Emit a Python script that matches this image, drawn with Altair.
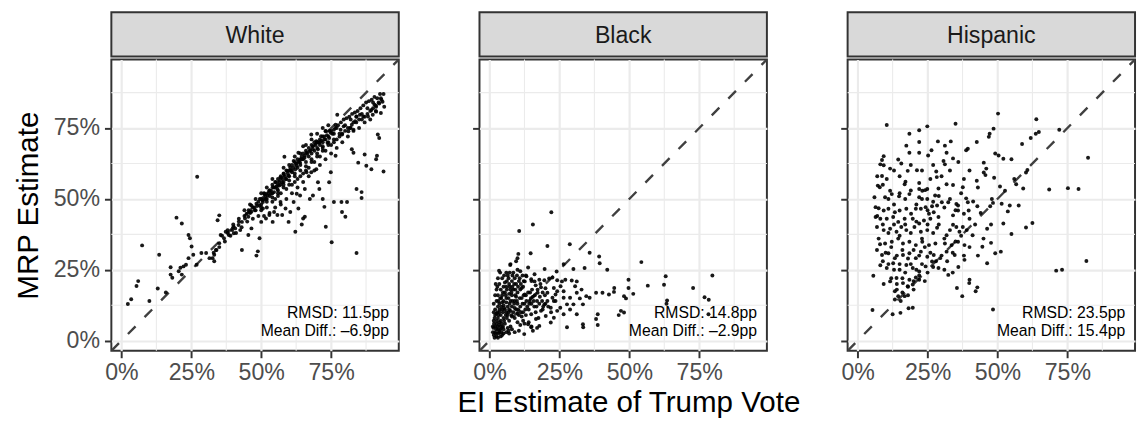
import altair as alt
import pandas as pd

FONT = "Liberation Sans"

panel_names = ["White", "Black", "Hispanic"]
rmsd_labels = ["RMSD: 11.5pp", "RMSD: 14.8pp", "RMSD: 23.5pp"]
mdiff_labels = ["Mean Diff.: \u20136.9pp", "Mean Diff.: \u20132.9pp", "Mean Diff.: 15.4pp"]
x_title = "EI Estimate of Trump Vote"
y_title = "MRP Estimate"
major_ticks = [0, 0.25, 0.5, 0.75]
minor_ticks = [0.125, 0.375, 0.625, 0.875]
axis_domain = [-0.036, 0.992]
diag_ends = [-0.036, 0.992]
ann_x = 0.957
ann_y = [0.080, 0.0174]

white_pts = [
    (.9375,.87),(.928,.855),(.934,.843),(.922,.837),(.94,.825),(.911,.825),(.905,.832),(.911,.808),
    (.928,.803),(.899,.797),(.894,.814),(.882,.791),(.865,.791),(.853,.797),(.841,.791),(.836,.774),
    (.824,.762),(.83,.744),(.812,.739),(.818,.75),(.795,.756),(.784,.744),(.789,.727),(.766,.762),
    (.76,.744),(.772,.797),(.749,.733),(.743,.715),(.737,.698),(.731,.739),(.726,.71),(.72,.686),
    (.714,.721),(.708,.698),(.703,.675),(.697,.704),(.685,.686),(.679,.727),(.674,.669),(.662,.663),
    (.656,.652),(.65,.686),(.645,.64),(.639,.628),(.633,.663),(.627,.617),(.622,.605),(.616,.634),
    (.61,.594),(.604,.611),(.598,.582),(.593,.599),(.587,.57),(.581,.588),(.583,.649),(.575,.559),
    (.569,.576),(.564,.547),(.558,.535),(.552,.559),(.546,.524),(.541,.541),(.535,.518),(.529,.53),
    (.523,.512),(.517,.5),(.512,.518),(.506,.489),(.5,.5),(.494,.477),(.483,.483),(.477,.46),
    (.465,.477),(.459,.454),(.454,.437),(.448,.448),(.442,.431),(.431,.419),(.419,.408),(.407,.396),
    (.396,.39),(.402,.379),(.384,.373),(.373,.384),(.367,.361),(.355,.373),(.35,.442),(.344,.425),
    (.35,.344),(.338,.32),(.332,.303),(.332,.28),(.326,.291),(.315,.291),(.303,.309),(.286,.309),
    (.271,.578),(.269,.268),(.257,.303),(.251,.332),(.245,.361),(.24,.373),(.24,.291),(.231,.268),
    (.222,.262),(.216,.413),(.211,.257),(.216,.233),(.197,.434),(.205,.245),(.182,.222),(.176,.259),
    (.176,.233),(.159,.17),(.13,.184),(.135,.303),(.1,.14),(.06,.21),(.054,.193),(.035,.146),
    (.023,.129),(.074,.336),
    (.9375,.597),(.917,.727),(.922,.715),(.914,.652),(.911,.64),(.894,.605),(.876,.617),(.859,.524),
    (.859,.503),(.87,.657),(.847,.628),(.841,.535),(.841,.309),(.824,.675),(.83,.663),(.807,.489),
    (.801,.437),(.789,.454),(.787,.489),(.766,.652),(.76,.489),(.752,.347),(.749,.594),(.743,.559),
    (.731,.402),(.726,.472),(.72,.5),(.708,.535),(.703,.559),(.697,.605),(.685,.512),(.679,.594),
    (.674,.5),(.662,.594),(.656,.535),(.656,.437),(.65,.431),(.645,.41),(.639,.512),(.633,.466),
    (.627,.518),(.622,.384),(.616,.489),(.604,.454),(.598,.419),(.587,.466),(.575,.443),(.569,.489),
    (.558,.443),(.546,.454),(.541,.419),(.529,.443),(.517,.431),(.506,.466),(.5,.419),(.494,.361),
    (.483,.3),(.488,.315),(.465,.396),(.454,.373),(.431,.32),(.425,.39),
    (.47,.47),(.48,.46),(.49,.49),(.50,.48),(.51,.50),(.52,.49),(.53,.51),(.54,.52),(.55,.54),
    (.56,.53),(.57,.55),(.58,.56),(.59,.57),(.60,.58),(.61,.60),(.62,.59),(.63,.61),(.64,.62),
    (.65,.64),(.66,.63),(.67,.65),(.68,.66),(.69,.67),(.70,.68),(.71,.69),(.72,.70),(.73,.71),
    (.74,.72),(.75,.74),(.76,.73),(.77,.75),(.62,.56),(.60,.55),(.58,.54),(.56,.51),(.54,.49),
    (.52,.47),(.50,.46),(.64,.58),(.66,.60),(.68,.63),(.70,.65),(.72,.67),(.74,.70),(.76,.71),
    (.78,.73),(.80,.76),(.82,.78),(.84,.79),(.86,.80),(.88,.82),(.90,.84),(.92,.84),(.91,.81),
    (.89,.78),(.87,.77),(.85,.75),(.83,.74),(.81,.72),(.79,.70),(.77,.68),(.75,.66),(.73,.64),
    (.71,.62),(.69,.60),(.67,.58),(.65,.56),(.63,.54),(.61,.52),(.59,.50),(.57,.48),(.55,.47),
    (.53,.45),(.51,.44),(.49,.44),(.47,.43),(.45,.42),(.43,.40),(.41,.38),(.39,.37),(.37,.35),
    (.35,.33),(.44,.44),(.46,.45),(.42,.42),(.40,.40),(.38,.38),(.36,.37),(.34,.32),(.33,.31),
    (.57,.58),(.59,.60),(.61,.62),(.63,.64),(.65,.66),(.67,.68),(.69,.70),(.71,.71),(.73,.74),
    (.55,.56),(.53,.53),(.51,.52),(.66,.69),(.68,.71),(.70,.73),(.72,.75),(.74,.76),(.64,.66),
    (.62,.63),(.60,.62),(.58,.59),(.56,.57),(.54,.55),
    (.455,.46),(.465,.455),(.475,.47),(.485,.475),(.495,.5),(.505,.495),(.515,.51),(.525,.52),
    (.535,.53),(.545,.54),(.555,.545),(.565,.56),(.575,.57),(.585,.58),(.595,.59),(.605,.6),
    (.615,.61),(.625,.625),(.635,.63),(.645,.65),(.655,.645),(.665,.66),(.675,.67),(.685,.675),
    (.695,.69),(.705,.7),(.715,.705),(.725,.72),(.735,.725),(.745,.74),(.755,.73),(.765,.75),
    (.775,.76),(.785,.77),(.795,.78),(.805,.785),(.815,.79),(.825,.8),(.835,.805),(.845,.81),
    (.855,.82),(.865,.83),(.875,.84),(.885,.845),(.895,.85),(.905,.86),(.915,.855),(.925,.87),
    (.6,.565),(.62,.58),(.64,.6),(.66,.615),(.68,.64),(.7,.66),(.72,.68),(.74,.69),(.76,.7),
    (.78,.72),(.8,.74),(.82,.75),(.84,.77),(.86,.78),(.88,.8),(.9,.82),(.58,.55),(.56,.52),
    (.54,.505),(.52,.5),(.5,.47),
    (.48,.5),(.5,.52),(.52,.54),(.54,.57),(.56,.55),(.58,.61),(.6,.6),(.62,.65),(.64,.64),
    (.66,.67),(.68,.69),(.7,.7),(.72,.72),(.55,.5),(.57,.52),(.59,.535),(.61,.55),(.63,.57),
    (.65,.59),(.67,.61),(.69,.63),(.71,.65),(.73,.67),(.75,.69),(.77,.71),(.79,.73),(.81,.75),
    (.83,.77),(.85,.78),(.87,.79),(.89,.81),(.91,.83),(.93,.85),(.46,.48),(.44,.46),(.42,.43),
    (.4,.41),(.38,.39),
]

black_pts = [
    (.221,.453),(.155,.41),(.106,.387),(.207,.334),(.287,.34),(.103,.306),(.147,.308),(.1,.291),
    (.358,.31),(.392,.297),(.394,.273),(.543,.277),(.074,.267),(.138,.258),(.197,.253),(.265,.27),
    (.3,.253),(.34,.256),(.421,.25),(.24,.244),(.034,.247),(.63,.227),(.797,.23),(.497,.215),
    (.566,.194),(.624,.197),(.728,.186),(.769,.153),(.784,.144),(.635,.142),(.633,.13),(.497,.186),
    (.446,.186),(.445,.172),(.427,.163),(.404,.169),(.381,.169),(.481,.157),(.488,.149),(.514,.165),
    (.462,.09),(.481,.099),(.381,.076),(.387,.093),(.334,.058),(.387,.055),(.277,.047),(.312,.093),
    (.219,.064),(.155,.035),(.124,.023),(.068,.035),(.783,.093),(.47,.105),(.335,.047),
    (.149,.217),(.161,.209),(.196,.213),(.213,.219),(.225,.223),(.242,.213),(.259,.209),(.271,.215),
    (.294,.212),(.312,.209),(.306,.192),(.254,.192),(.23,.186),(.184,.188),(.172,.169),(.207,.169),
    (.236,.163),(.265,.151),(.288,.151),(.323,.149),(.346,.157),(.358,.151),(.334,.128),(.3,.128),
    (.277,.128),(.253,.116),(.219,.116),(.196,.128),(.184,.105),(.149,.093),(.166,.076),(.201,.087),
    (.242,.105),(.265,.093),(.288,.11),(.23,.081),(.138,.058),(.149,.047),(.178,.052),(.207,.14),
    (.236,.14),(.312,.169),(.329,.18),(.265,.174),(.242,.174),(.225,.151),(.144,.14),(.126,.163),
    (.115,.186),(.126,.209),(.132,.227),(.161,.234),(.178,.215),
    (.015,.02),(.02,.03),(.025,.015),(.02,.05),(.03,.04),(.015,.07),(.02,.09),(.025,.06),(.03,.08),
    (.035,.03),(.04,.05),(.045,.02),(.05,.04),(.04,.07),(.035,.10),(.03,.12),(.02,.11),(.025,.14),
    (.03,.16),(.035,.13),(.04,.09),(.045,.11),(.05,.08),(.055,.06),(.06,.03),(.06,.10),(.065,.12),
    (.05,.14),(.045,.16),(.04,.18),(.035,.20),(.03,.22),(.05,.19),(.055,.17),(.06,.15),(.065,.09),
    (.07,.07),(.075,.05),(.07,.11),(.075,.14),(.08,.12),(.085,.10),(.09,.08),(.08,.16),(.085,.18),
    (.09,.14),(.095,.11),(.1,.13),(.105,.09),(.11,.12),(.115,.15),(.1,.17),(.095,.20),(.09,.22),
    (.07,.20),(.065,.23),(.06,.19),(.075,.18),(.08,.21),(.11,.18),(.12,.10),(.125,.13),(.13,.16),
    (.12,.19),(.105,.21),(.085,.24),(.06,.24),(.045,.22),(.025,.18),(.02,.16),(.015,.13),(.015,.10),
    (.012,.05),(.018,.01),(.03,.01),(.04,.015),(.05,.025),(.055,.11),(.035,.065),(.025,.095),
    (.045,.135),(.055,.205),(.07,.165),(.08,.085),(.095,.155),(.1,.065),(.11,.055),(.12,.07),
    (.13,.09),(.14,.11),(.15,.13),(.145,.17),(.135,.12),(.065,.045),(.08,.04),(.09,.03),(.105,.035),
    (.07,.025),(.05,.125),(.06,.135),(.075,.105),(.09,.115),(.1,.095),(.115,.085),(.125,.06),
    (.155,.155),(.16,.12),(.17,.14),(.18,.155),(.165,.1),(.175,.08),(.14,.065),(.15,.05),(.17,.045),
    (.19,.11),(.2,.13),(.21,.12),(.22,.1),(.23,.14),(.19,.17),(.2,.185),(.165,.195),(.15,.21),
    (.13,.23),(.11,.245),(.1,.25),(.075,.27),(.095,.28),
    (.012,.03),(.014,.045),(.016,.06),(.018,.08),(.022,.025),(.024,.04),(.026,.07),(.028,.05),
    (.032,.025),(.034,.055),(.038,.04),(.042,.03),(.044,.06),(.048,.05),(.052,.07),(.028,.1),
    (.032,.09),(.036,.11),(.042,.12),(.048,.1),(.052,.115),(.058,.09),(.062,.08),(.068,.1),
    (.072,.13),(.078,.09),(.082,.14),(.088,.13),(.092,.16),(.098,.14),(.102,.11),(.108,.15),
    (.112,.1),(.118,.13),(.122,.16),(.128,.11),(.132,.14),(.138,.17),(.142,.13),(.148,.15),
    (.152,.18),(.158,.14),(.162,.16),(.168,.12),(.172,.18),(.178,.13),(.182,.2),(.188,.14),
    (.192,.12),(.198,.16),(.042,.15),(.048,.17),(.058,.16),(.062,.18),(.068,.15),(.072,.19),
    (.078,.17),(.082,.19),(.088,.2),(.092,.18),(.098,.23),(.102,.19),(.108,.22),(.112,.2),
    (.118,.23),(.122,.21),(.062,.21),(.068,.22),(.052,.23),(.038,.24),(.072,.24),(.082,.23),
    (.028,.19),(.022,.2),(.032,.14),(.038,.15),
]

hispanic_pts = [
    (.104,.761),(.185,.73),(.22,.742),(.249,.756),(.35,.765),(.502,.801),(.486,.748),(.472,.73),
    (.469,.719),(.639,.781),(.648,.736),(.637,.73),(.619,.715),(.721,.744),(.588,.694),(.426,.701),
    (.394,.677),(.388,.672),(.287,.703),(.312,.688),(.333,.703),(.22,.701),(.174,.688),(.185,.663),
    (.22,.663),(.252,.653),(.264,.672),(.318,.663),(.341,.643),(.307,.634),(.312,.622),(.093,.651),
    (.087,.637),(.145,.639),(.156,.625),(.081,.622),(.093,.619),(.116,.607),(.492,.66),(.504,.653),
    (.521,.642),(.55,.64),(.824,.645),(.451,.628),(.46,.607),(.451,.593),(.457,.584),(.607,.602),
    (.602,.593),(.179,.599),(.212,.601),(.281,.597),(.283,.577),(.087,.581),(.104,.57),(.171,.561),
    (.168,.552),(.22,.556),(.426,.564),(.488,.575),(.56,.57),(.567,.552),(.592,.537),(.685,.533),
    (.752,.538),(.79,.535),(.072,.547),(.079,.541),(.116,.529),(.22,.535),(.231,.529),(.241,.531),
    (.249,.535),(.289,.537),(.318,.552),(.341,.549),(.376,.541),(.509,.544),(.527,.529),(.06,.506),
    (.098,.506),(.122,.517),(.148,.509),(.185,.517),(.22,.506),(.249,.5),(.277,.512),(.301,.488),
    (.324,.488),(.353,.482),(.359,.477),(.388,.502),(.394,.488),(.413,.491),(.428,.474),(.474,.474),
    (.48,.5),(.484,.486),(.515,.483),(.544,.477),(.537,.456),(.576,.477),(.064,.471),(.075,.467),
    (.093,.459),(.11,.465),(.133,.453),(.15,.459),(.174,.465),(.191,.448),(.208,.465),(.226,.465),
    (.243,.471),(.266,.474),(.284,.477),(.255,.448),(.272,.453),(.289,.436),(.341,.442),(.359,.459),
    (.38,.448),(.397,.459),(.064,.436),(.081,.43),(.104,.43),(.127,.436),(.145,.419),(.168,.43),
    (.197,.43),(.22,.413),(.237,.424),(.26,.43),(.069,.401),(.093,.39),(.116,.395),(.139,.384),
    (.156,.401),(.174,.39),(.203,.401),(.226,.384),(.249,.39),(.284,.398),(.318,.372),(.341,.409),
    (.353,.401),(.364,.384),(.376,.401),(.411,.372),(.463,.395),(.477,.41),(.521,.413),(.55,.376),
    (.602,.399),(.625,.415),(.075,.36),(.098,.343),(.122,.349),(.145,.36),(.162,.343),(.185,.349),
    (.208,.337),(.231,.349),(.255,.337),(.278,.343),(.312,.343),(.336,.337),(.359,.349),(.382,.337),
    (.446,.331),(.477,.345),(.512,.314),(.492,.308),(.069,.32),(.087,.302),(.11,.308),(.133,.291),
    (.162,.302),(.185,.308),(.208,.291),(.226,.314),(.249,.296),(.272,.302),(.295,.291),(.318,.314),
    (.347,.302),(.382,.285),(.463,.273),(.081,.266),(.104,.256),(.127,.273),(.15,.25),(.174,.267),
    (.197,.256),(.22,.244),(.243,.262),(.266,.279),(.289,.256),(.31,.25),(.324,.232),(.056,.229),
    (.093,.2),(.116,.209),(.139,.221),(.162,.203),(.185,.215),(.208,.223),(.22,.215),(.179,.192),
    (.197,.198),(.133,.174),(.145,.157),(.133,.145),(.154,.14),(.168,.157),(.355,.186),(.4,.215),
    (.399,.203),(.428,.188),(.422,.174),(.374,.157),(.71,.247),(.731,.25),(.818,.281),(.484,.11),
    (.053,.108),(.125,.093),(.153,.098),(.182,.114),(.197,.116),
    (.07,.58),(.09,.55),(.11,.5),(.13,.48),(.15,.52),(.17,.5),(.19,.53),(.21,.48),(.23,.5),
    (.25,.46),(.27,.49),(.29,.51),(.31,.47),(.33,.5),(.35,.46),(.37,.52),(.07,.44),(.09,.41),
    (.11,.38),(.13,.41),(.15,.37),(.17,.41),(.19,.38),(.21,.42),(.23,.36),(.25,.41),(.27,.38),
    (.29,.41),(.31,.36),(.33,.39),(.35,.35),(.37,.37),(.39,.39),(.08,.34),(.1,.31),(.12,.33),
    (.14,.3),(.16,.32),(.18,.29),(.2,.32),(.22,.3),(.24,.33),(.26,.31),(.28,.28),(.3,.3),
    (.32,.28),(.34,.31),(.09,.28),(.11,.27),(.13,.25),(.15,.27),(.17,.24),(.19,.27),(.21,.25),
    (.23,.27),(.25,.24),(.27,.26),(.12,.22),(.14,.2),(.16,.22),(.18,.19),(.2,.21),(.22,.23),
    (.24,.21),(.14,.18),(.16,.17),(.18,.16),(.2,.18),(.13,.6),(.15,.58),(.19,.62),(.23,.6),
    (.27,.62),(.3,.58),(.26,.57),(.33,.6),(.36,.63),(.4,.6),(.38,.57),(.43,.54),(.4,.43),
    (.42,.41),(.44,.45),(.4,.33),(.43,.3),(.45,.36),(.38,.3),(.36,.26),(.34,.24),
]

all_pts = [white_pts, black_pts, hispanic_pts]

W, H, STRIP_H = 292, 296, 45
GAP = 71
BORDER = "#333333"
GRID = "#EBEBEB"


def make_panel(i):
    sc = alt.Scale(domain=axis_domain, nice=False, zero=False)
    common = dict(
        values=major_ticks, format=".0%", grid=True, gridColor=GRID, gridWidth=2.2,
        domain=False, tickColor=BORDER, tickWidth=2, tickSize=7,
        labelFont=FONT, labelFontSize=23.5, labelColor="#4D4D4D",
        titleFont=FONT, titleFontSize=30, titleFontWeight="normal", titleColor="black",
    )
    xaxis = alt.Axis(labelPadding=3, **common)
    yaxis = alt.Axis(labels=(i == 0), labelPadding=5, titlePadding=10, **common)
    yt = y_title if i == 0 else None

    def X(f):
        return alt.X(f, type="quantitative", scale=sc, axis=xaxis, title=None)

    def Y(f):
        return alt.Y(f, type="quantitative", scale=sc, axis=yaxis, title=yt)

    minor_df = pd.DataFrame({"v": minor_ticks})
    minor_x = alt.Chart(minor_df).mark_rule(color=GRID, strokeWidth=1.1).encode(x=X("v"))
    minor_y = alt.Chart(minor_df).mark_rule(color=GRID, strokeWidth=1.1).encode(y=Y("v"))

    diag_df = pd.DataFrame({"a": [diag_ends[0]], "b": [diag_ends[1]]})
    diag = alt.Chart(diag_df).mark_rule(
        color="#404040", strokeWidth=2.4, strokeDash=[11, 13], clip=True
    ).encode(x=X("a"), y=Y("a"), x2=alt.X2("b"), y2=alt.Y2("b"))

    ann_df = pd.DataFrame({"tx": [ann_x, ann_x], "ty": ann_y,
                           "label": [rmsd_labels[i], mdiff_labels[i]]})
    ann = alt.Chart(ann_df).mark_text(
        align="right", baseline="alphabetic", font=FONT, fontSize=16, color="black"
    ).encode(x=X("tx"), y=Y("ty"), text="label:N")

    pts = pd.DataFrame({"x": [p[0] for p in all_pts[i]], "y": [p[1] for p in all_pts[i]]})
    points = alt.Chart(pts).mark_circle(size=16, color="black", opacity=0.9).encode(
        x=X("x"), y=Y("y")
    )

    body = alt.layer(minor_x, minor_y, diag, ann, points).properties(
        width=W, height=H,
        view=alt.ViewBackground(fill="white", stroke=BORDER, strokeWidth=2),
    )

    strip = alt.Chart(pd.DataFrame({"label": [panel_names[i]]})).mark_text(
        font=FONT, fontSize=23.5, color="#1A1A1A", baseline="alphabetic", align="center"
    ).encode(text="label:N", x=alt.value(W / 2), y=alt.value(31)).properties(
        width=W, height=STRIP_H,
        view=alt.ViewBackground(fill="#D9D9D9", stroke=BORDER, strokeWidth=2),
    )
    return alt.vconcat(strip, body, spacing=0)


chart = alt.hconcat(*[make_panel(i) for i in range(3)], spacing=GAP).properties(
    padding={"left": 4, "top": 0, "right": 0, "bottom": 0},
    title=alt.TitleParams(
        text=x_title, orient="bottom", anchor="middle", dx=55, offset=4,
        font=FONT, fontSize=30, fontWeight="normal", color="black",
    ),
).configure(font=FONT)

chart.save("out.html", embed_options={"renderer": "svg", "actions": False})
